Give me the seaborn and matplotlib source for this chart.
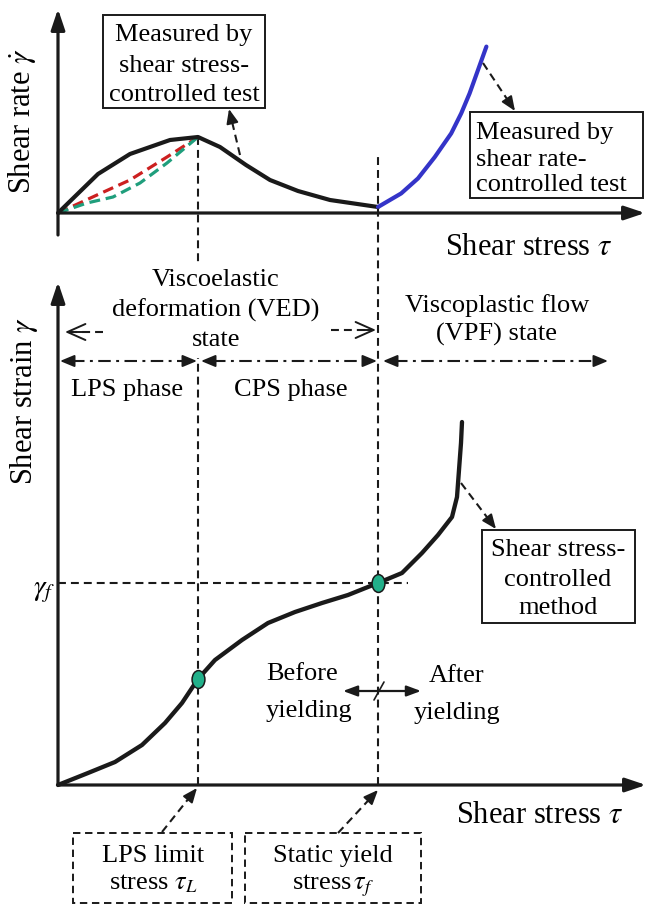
import numpy as np
import matplotlib
matplotlib.use("Agg")
import matplotlib.pyplot as plt
from matplotlib.patches import Rectangle, ArrowStyle
from matplotlib.path import Path
from matplotlib.transforms import Affine2D
import seaborn as sns

sns.set_theme(style="white")
SERIF = ["Liberation Serif", "DejaVu Serif"]
plt.rcParams["font.family"] = SERIF
plt.rcParams["mathtext.fontset"] = "stix"
plt.rcParams["text.color"] = "black"

# ---- schematic curves (shear stress in arbitrary units) ----
# upper panel: shear rate vs shear stress
stress_sc = [0.0, 1.0, 1.8, 2.8, 3.5, 4.05, 4.7, 5.3, 6.0, 6.8, 8.0]
rate_sc = [0.0, 1.95, 2.95, 3.65, 3.8, 3.3, 2.4, 1.65, 1.1, 0.65, 0.3]
stress_rc = [8.0, 8.58, 9.0, 9.42, 9.83, 10.08, 10.29, 10.5, 10.71]
rate_rc = [0.3, 0.98, 1.73, 2.8, 3.98, 4.98, 5.98, 7.15, 8.32]
stress_lin = [0.0, 0.975, 1.8, 2.725, 3.5]
rate_lin = [0.0, 0.9, 1.65, 2.8, 3.8]
stress_cvx = [0.0, 0.725, 1.375, 2.05, 2.725, 3.5]
rate_cvx = [0.0, 0.5, 0.8, 1.5, 2.5, 3.8]

# lower panel: shear strain vs shear stress
stress_st = [0.0, 0.75, 1.425, 2.1, 2.675, 3.1, 3.5, 3.925, 4.6, 5.25, 5.925,
             6.6, 7.25, 8.0, 8.6, 9.1, 9.5, 9.85, 9.975, 10.025, 10.075, 10.1]
strain_st = [0.0, 0.6, 1.15, 2.0, 3.1, 4.1, 5.3, 6.25, 7.25, 8.1, 8.65,
             9.1, 9.5, 10.1, 10.6, 11.6, 12.5, 13.4, 14.4, 15.75, 17.1, 18.15]

tau_L, tau_f = 3.5, 8.0
gamma_L, gamma_f = 5.3, 10.1
rate_peak = 3.8

# text
xlabel = r"Shear stress $\tau$"
ylabel_top = r"Shear rate $\dot{\gamma}$"
ylabel_bot = r"Shear strain $\gamma$"
box_sc = ["Measured by", "shear stress-", "controlled test"]
box_rc = ["Measured by", "shear rate-", "controlled test"]
ved_lines = ["Viscoelastic", "deformation (VED)", "state"]
vpf_lines = ["Viscoplastic flow", "(VPF) state"]
phase_labels = ["LPS phase", "CPS phase"]
method_lines = ["Shear stress-", "controlled", "method"]
lps_lines = ["LPS limit", r"stress $\tau_L$"]
yield_lines = ["Static yield", r"stress$\,\tau_f$"]
before_lines = ["Before", "yielding"]
after_lines = ["After", "yielding"]

W, H = 648, 907
fig = plt.figure(figsize=(W / 100, H / 100), dpi=100)

X0, KX = 58, 40.0          # pixel of tau = 0, pixels per stress unit
Y0_TOP, KY_TOP = 213, 20.0
Y0_BOT, KY_BOT = 785, 20.0


def place(ax, l, r, t, b, y0, ky):
    ax.set_position([l / W, 1 - b / H, (r - l) / W, (b - t) / H])
    ax.set_xlim((l - X0) / KX, (r - X0) / KX)
    ax.set_ylim((y0 - b) / ky, (y0 - t) / ky)
    ax.axis("off")


ax_top = fig.add_axes([0, 0, 1, 1])
ax_bot = fig.add_axes([0, 0, 1, 1])
place(ax_top, 40, 650, 0, 245, Y0_TOP, KY_TOP)
place(ax_bot, 40, 650, 270, 800, Y0_BOT, KY_BOT)

DASH = (0, (3.8, 2.4))
BLUE = "#3434c8"
RED = "#cc2020"
TEAL = "#1f9e7c"
MARK = "#22b08a"
CURVE = dict(sort=False, estimator=None, legend=False,
             solid_joinstyle="round", solid_capstyle="round")


def axis_arrow(ax, p0, p1):
    ax.annotate("", xy=p1, xytext=p0, annotation_clip=False,
                arrowprops=dict(arrowstyle=ArrowStyle("-|>", head_length=1.25, head_width=0.42),
                                mutation_scale=10, lw=2.3, color="k", fc="k",
                                shrinkA=0, shrinkB=0))


# upper panel
axis_arrow(ax_top, (0, 0), ((645 - X0) / KX, 0))
axis_arrow(ax_top, (0, (Y0_TOP - 235) / KY_TOP), (0, (Y0_TOP - 9) / KY_TOP))
ax_top.plot([tau_L, tau_L], [rate_peak, (Y0_TOP - 262) / KY_TOP], color="k",
            lw=1.5, linestyle=DASH, clip_on=False, zorder=1)
sns.lineplot(x=stress_lin, y=rate_lin, ax=ax_top, sort=False, estimator=None,
             color=RED, lw=2.3, linestyle=(0, (3.4, 1.8)), zorder=2, legend=False)
sns.lineplot(x=stress_cvx, y=rate_cvx, ax=ax_top, sort=False, estimator=None,
             color=TEAL, lw=2.3, linestyle=(0, (3.4, 1.8)), zorder=2, legend=False)
sns.lineplot(x=stress_sc, y=rate_sc, ax=ax_top, color="k", lw=3.0, zorder=3, **CURVE)
sns.lineplot(x=stress_rc, y=rate_rc, ax=ax_top, color=BLUE, lw=3.0, zorder=3, **CURVE)
place(ax_top, 40, 650, 0, 245, Y0_TOP, KY_TOP)

# lower panel
axis_arrow(ax_bot, (0, 0), ((646 - X0) / KX, 0))
axis_arrow(ax_bot, (0, 0), (0, (Y0_BOT - 282) / KY_BOT))
ax_bot.plot([tau_L, tau_L], [0, (Y0_BOT - 358) / KY_BOT], color="k",
            lw=1.5, linestyle=DASH, clip_on=False, zorder=1)
ax_bot.plot([tau_f, tau_f], [0, (Y0_BOT - 157) / KY_BOT], color="k",
            lw=1.5, linestyle=DASH, clip_on=False, zorder=1)
ax_bot.plot([0, (408 - X0) / KX], [gamma_f, gamma_f], color="k",
            lw=1.5, linestyle=DASH, clip_on=False, zorder=1)
sns.lineplot(x=stress_st, y=strain_st, ax=ax_bot, color="k", lw=3.1, zorder=3, **CURVE)
ellipse = Path(Affine2D().scale(0.72, 1.0).transform(Path.unit_circle().vertices),
               Path.unit_circle().codes)
sns.scatterplot(x=[tau_L, tau_f], y=[gamma_L, gamma_f], ax=ax_bot, marker=ellipse,
                s=165, color=MARK, edgecolor="k", linewidth=1.1, zorder=5, legend=False)
place(ax_bot, 40, 650, 270, 800, Y0_BOT, KY_BOT)

# overlay in pixel units for labels, boxes and callout arrows
ov = fig.add_axes([0, 0, 1, 1])
ov.set_xlim(0, W)
ov.set_ylim(H, 0)
ov.axis("off")
ov.patch.set_alpha(0)

FS = 19


def lines(strs, x, ys, ha="center", size=FS):
    for s, y in zip(strs, ys):
        ov.text(x, y + 9, s, ha=ha, va="baseline", fontsize=size, family=SERIF,
                color="black")


def box(x0, y0, x1, y1, ls="-"):
    ov.add_patch(Rectangle((x0, y0), x1 - x0, y1 - y0, fill=False, ec="k",
                           lw=1.4, linestyle=ls))


def head(tip, base, style="-|>", hl=12, hw=5, lw=1.4):
    ov.annotate("", xy=tip, xytext=base,
                arrowprops=dict(arrowstyle=ArrowStyle(style, head_length=hl * 0.072,
                                                      head_width=hw * 0.072),
                                mutation_scale=10, lw=lw, color="k", fc="k",
                                shrinkA=0, shrinkB=0))


def dashed_arrow(p0, tip, style="-|>", hl=12, hw=5, ls=(0, (3.8, 2.4))):
    p0, tip = np.array(p0, float), np.array(tip, float)
    u = (tip - p0) / np.linalg.norm(tip - p0)
    base = tip - u * hl
    end = base if style == "-|>" else tip - u * 3
    ov.plot([p0[0], end[0]], [p0[1], end[1]], color="k", lw=1.5, linestyle=ls)
    head(tuple(tip), tuple(base), style, hl, hw, lw=1.4)


def dashdot_double(x0, x1, y, hl=12, hw=5):
    ov.plot([x0 + hl, x1 - hl], [y, y], color="k", lw=1.5,
            linestyle=(0, (6.0, 2.6, 1.4, 2.6)))
    head((x0, y), (x0 + hl, y), "-|>", hl, hw)
    head((x1, y), (x1 - hl, y), "-|>", hl, hw)


# axis labels
ov.text(22, 121, ylabel_top, rotation=90, ha="center", va="center", fontsize=22, color="black")
ov.text(24, 401, ylabel_bot, rotation=90, ha="center", va="center", fontsize=22, color="black")
lines([xlabel], 529, [246], size=22)
lines([xlabel], 540, [814], size=22)
ov.text(44, 592, r"$\gamma_f$", ha="center", va="center", fontsize=21, color="black")

# upper callouts
box(103, 15, 265, 108)
lines(box_sc, 184, [32, 63, 92])
dashed_arrow((240, 155), (229, 109))
box(470, 112, 643, 198)
lines(box_rc, 476, [130, 157, 182], ha="left")
dashed_arrow((483, 63), (515, 111))

# state and phase annotations
lines(ved_lines, 216, [277, 308, 337])
lines(vpf_lines, 497, [303, 332])
dashed_arrow((103, 332), (65, 332), style="->", hl=18, hw=8)
dashed_arrow((331, 330), (376, 330), style="->", hl=18, hw=8)
dashdot_double(60, 197, 361)
dashdot_double(201, 377, 361)
dashdot_double(383, 608, 361)
lines(phase_labels[:1], 127, [387])
lines(phase_labels[1:], 291, [387])

# yielding annotations
lines(before_lines, 266, [671, 708], ha="left")
lines(after_lines, 457, [673, 710])
ov.annotate("", xy=(421, 691), xytext=(343, 691),
            arrowprops=dict(arrowstyle=ArrowStyle("<|-|>", head_length=0.86, head_width=0.32),
                            mutation_scale=10, lw=1.6, color="k", fc="k",
                            shrinkA=0, shrinkB=0))
ov.plot([374, 384], [700, 682], color="k", lw=1.2)

# method box
box(482, 530, 635, 623)
lines(method_lines, 558, [547, 577, 605])
dashed_arrow((461, 483), (496, 529))

# stress definitions below the axis
box(73, 833, 232, 903, ls=(0, (3.8, 2.4)))
lines(lps_lines, 153, [853, 880])
dashed_arrow((162, 832), (197, 788))
box(245, 833, 421, 903, ls=(0, (3.8, 2.4)))
lines(yield_lines, 333, [853, 880])
dashed_arrow((338, 833), (378, 790))

fig.savefig("out.png", dpi=100)
